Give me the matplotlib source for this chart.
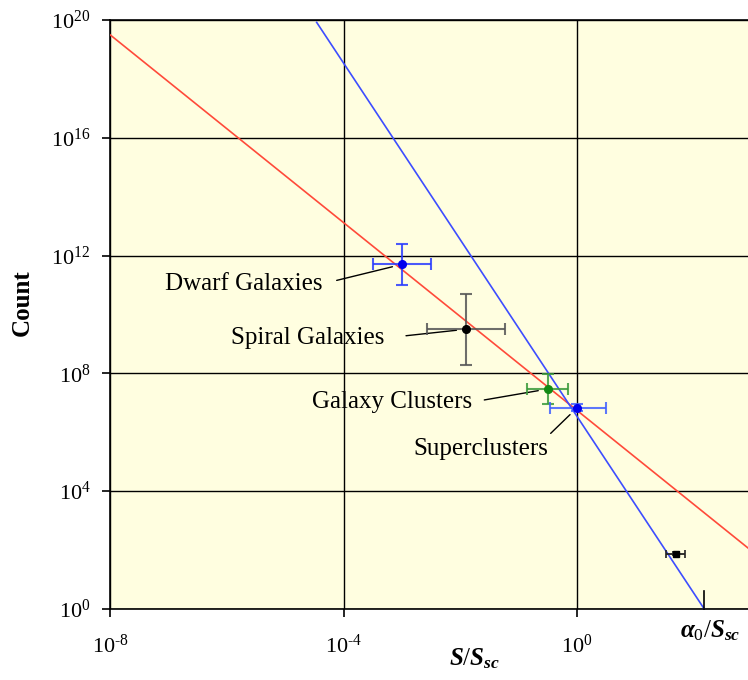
import numpy as np
import matplotlib
matplotlib.use('Agg')
import matplotlib.pyplot as plt

plt.rcParams['font.family'] = ['Liberation Serif', 'DejaVu Serif']
plt.rcParams['mathtext.fontset'] = 'custom'
plt.rcParams['mathtext.rm'] = 'Liberation Serif'
plt.rcParams['mathtext.it'] = 'Liberation Serif:italic:bold'
plt.rcParams['mathtext.bf'] = 'Liberation Serif:bold'

# ---------------- data (log10 values) ----------------
labels = ['Dwarf Galaxies', 'Spiral Galaxies', 'Galaxy Clusters', 'Superclusters']
x_log = [-3.0, -1.9, -0.5, 0.0]
y_log = [11.7, 9.5, 7.47, 6.83]
xerr_lo = [0.5, 0.67, 0.35, 0.47]
xerr_hi = [0.5, 0.67, 0.35, 0.5]
yerr_log = [0.7, 1.2, 0.5, 0.12]
bar_colors = ['#2a3cff', '#555555', '#3a9a3a', '#4060ff']
dot_colors = ['#0000ee', '#000000', '#138a13', '#0000ee']

extra_x_log = [1.69]
extra_y_log = [1.88]
extra_xerr = [0.16]
extra_yerr = [0.05]

# fitted power laws (end points)
red_x_log = [-8.0, 2.93]
red_y_log = [19.5, 2.07]
blue_x_log = [-4.46, 2.18]
blue_y_log = [19.92, 0.0]

alpha0_log = 2.18

xticks_log = [-8, -4, 0]
xtick_labels = [r'$10^{\text{-}8}$', r'$10^{\text{-}4}$', r'$10^{0}$']
yticks_log = [0, 4, 8, 12, 16, 20]

# label positions (log coords) and connector settings
label_pos = [(-5.71, 11.04), (-4.61, 9.20), (-3.16, 7.03), (-1.64, 5.43)]
label_relpos = [(1, 0.5), (1, 0.5), (1, 0.5), (0.97, 0.95)]
label_shrinkA = [8.5, 13.5, 6.5, 2]

# ---------------- figure ----------------
fig = plt.figure(figsize=(7.48, 6.8), dpi=100)
ax = fig.add_axes([110/748, 71/680, 638/748, 589/680])
ax.set_facecolor('#fffee0')
ax.set_xscale('log')
ax.set_yscale('log')
ax.set_xlim(1e-8, 10**2.929)
ax.set_ylim(1, 1e20)

ax.set_xticks([10.0**v for v in xticks_log])
ax.set_xticklabels(xtick_labels)
ax.set_yticks([10.0**v for v in yticks_log])
ax.set_yticklabels([f'$10^{{{v}}}$' for v in yticks_log])
ax.minorticks_off()
ax.tick_params(axis='both', direction='out', length=6, width=1.2, labelsize=16, colors='black')
ax.tick_params(axis='x', pad=12.5)
ax.tick_params(axis='y', pad=8)
ax.grid(True, color='black', linewidth=1.0, zorder=1)
ax.set_axisbelow(True)
ax.spines['right'].set_visible(False)
for s in ['left', 'bottom', 'top']:
    ax.spines[s].set_linewidth(1.2)

ax.plot(10.0**np.array(red_x_log), 10.0**np.array(red_y_log), color='#ff4a3a', lw=1.2, zorder=3)
ax.plot(10.0**np.array(blue_x_log), 10.0**np.array(blue_y_log), color='#3d4dff', lw=1.2, zorder=3)

for i in range(len(labels)):
    xv = 10.0**x_log[i]
    yv = 10.0**y_log[i]
    xe = [[xv - 10.0**(x_log[i] - xerr_lo[i])], [10.0**(x_log[i] + xerr_hi[i]) - xv]]
    ye = [[yv - 10.0**(y_log[i] - yerr_log[i])], [10.0**(y_log[i] + yerr_log[i]) - yv]]
    ax.errorbar([xv], [yv], xerr=xe, yerr=ye, fmt='none', ecolor=bar_colors[i],
                elinewidth=1.5, capsize=4, capthick=1.5, alpha=0.85, zorder=4)
    ax.plot([xv], [yv], 'o', color=dot_colors[i], ms=5.5, zorder=5)
    ax.annotate(labels[i], xy=(xv, yv),
                xytext=(10.0**label_pos[i][0], 10.0**label_pos[i][1]),
                textcoords='data', ha='center', va='center', fontsize=18,
                arrowprops=dict(arrowstyle='-', color='black', lw=1.0,
                                relpos=label_relpos[i], shrinkA=label_shrinkA[i], shrinkB=7))

for i in range(len(extra_x_log)):
    xv = 10.0**extra_x_log[i]
    yv = 10.0**extra_y_log[i]
    xe = [[xv - 10.0**(extra_x_log[i] - extra_xerr[i])], [10.0**(extra_x_log[i] + extra_xerr[i]) - xv]]
    ye = [[yv - 10.0**(extra_y_log[i] - extra_yerr[i])], [10.0**(extra_y_log[i] + extra_yerr[i]) - yv]]
    ax.errorbar([xv], [yv], xerr=xe, yerr=ye, fmt='none', ecolor='#222222',
                elinewidth=1.3, capsize=3, capthick=1.2, zorder=4)
    ax.plot([xv], [yv], 's', color='black', ms=4.5, zorder=5)

# alpha_0 marker
ax.plot([10.0**alpha0_log, 10.0**alpha0_log], [1, 10**0.6], color='black', lw=1.2, zorder=4, clip_on=False)

fig.text(22/748, 1 - 303/680, 'Count', rotation=90, ha='center', va='center',
         fontsize=18, fontweight='bold')
fig.text(475/748, 1 - 665/680, '$S/S_{sc}$', ha='center', va='baseline', fontsize=18)
fig.text(710/748, 1 - 637/680, r'$\alpha_0/S_{sc}$', ha='center', va='baseline', fontsize=18)

fig.savefig('out.png', dpi=100)
